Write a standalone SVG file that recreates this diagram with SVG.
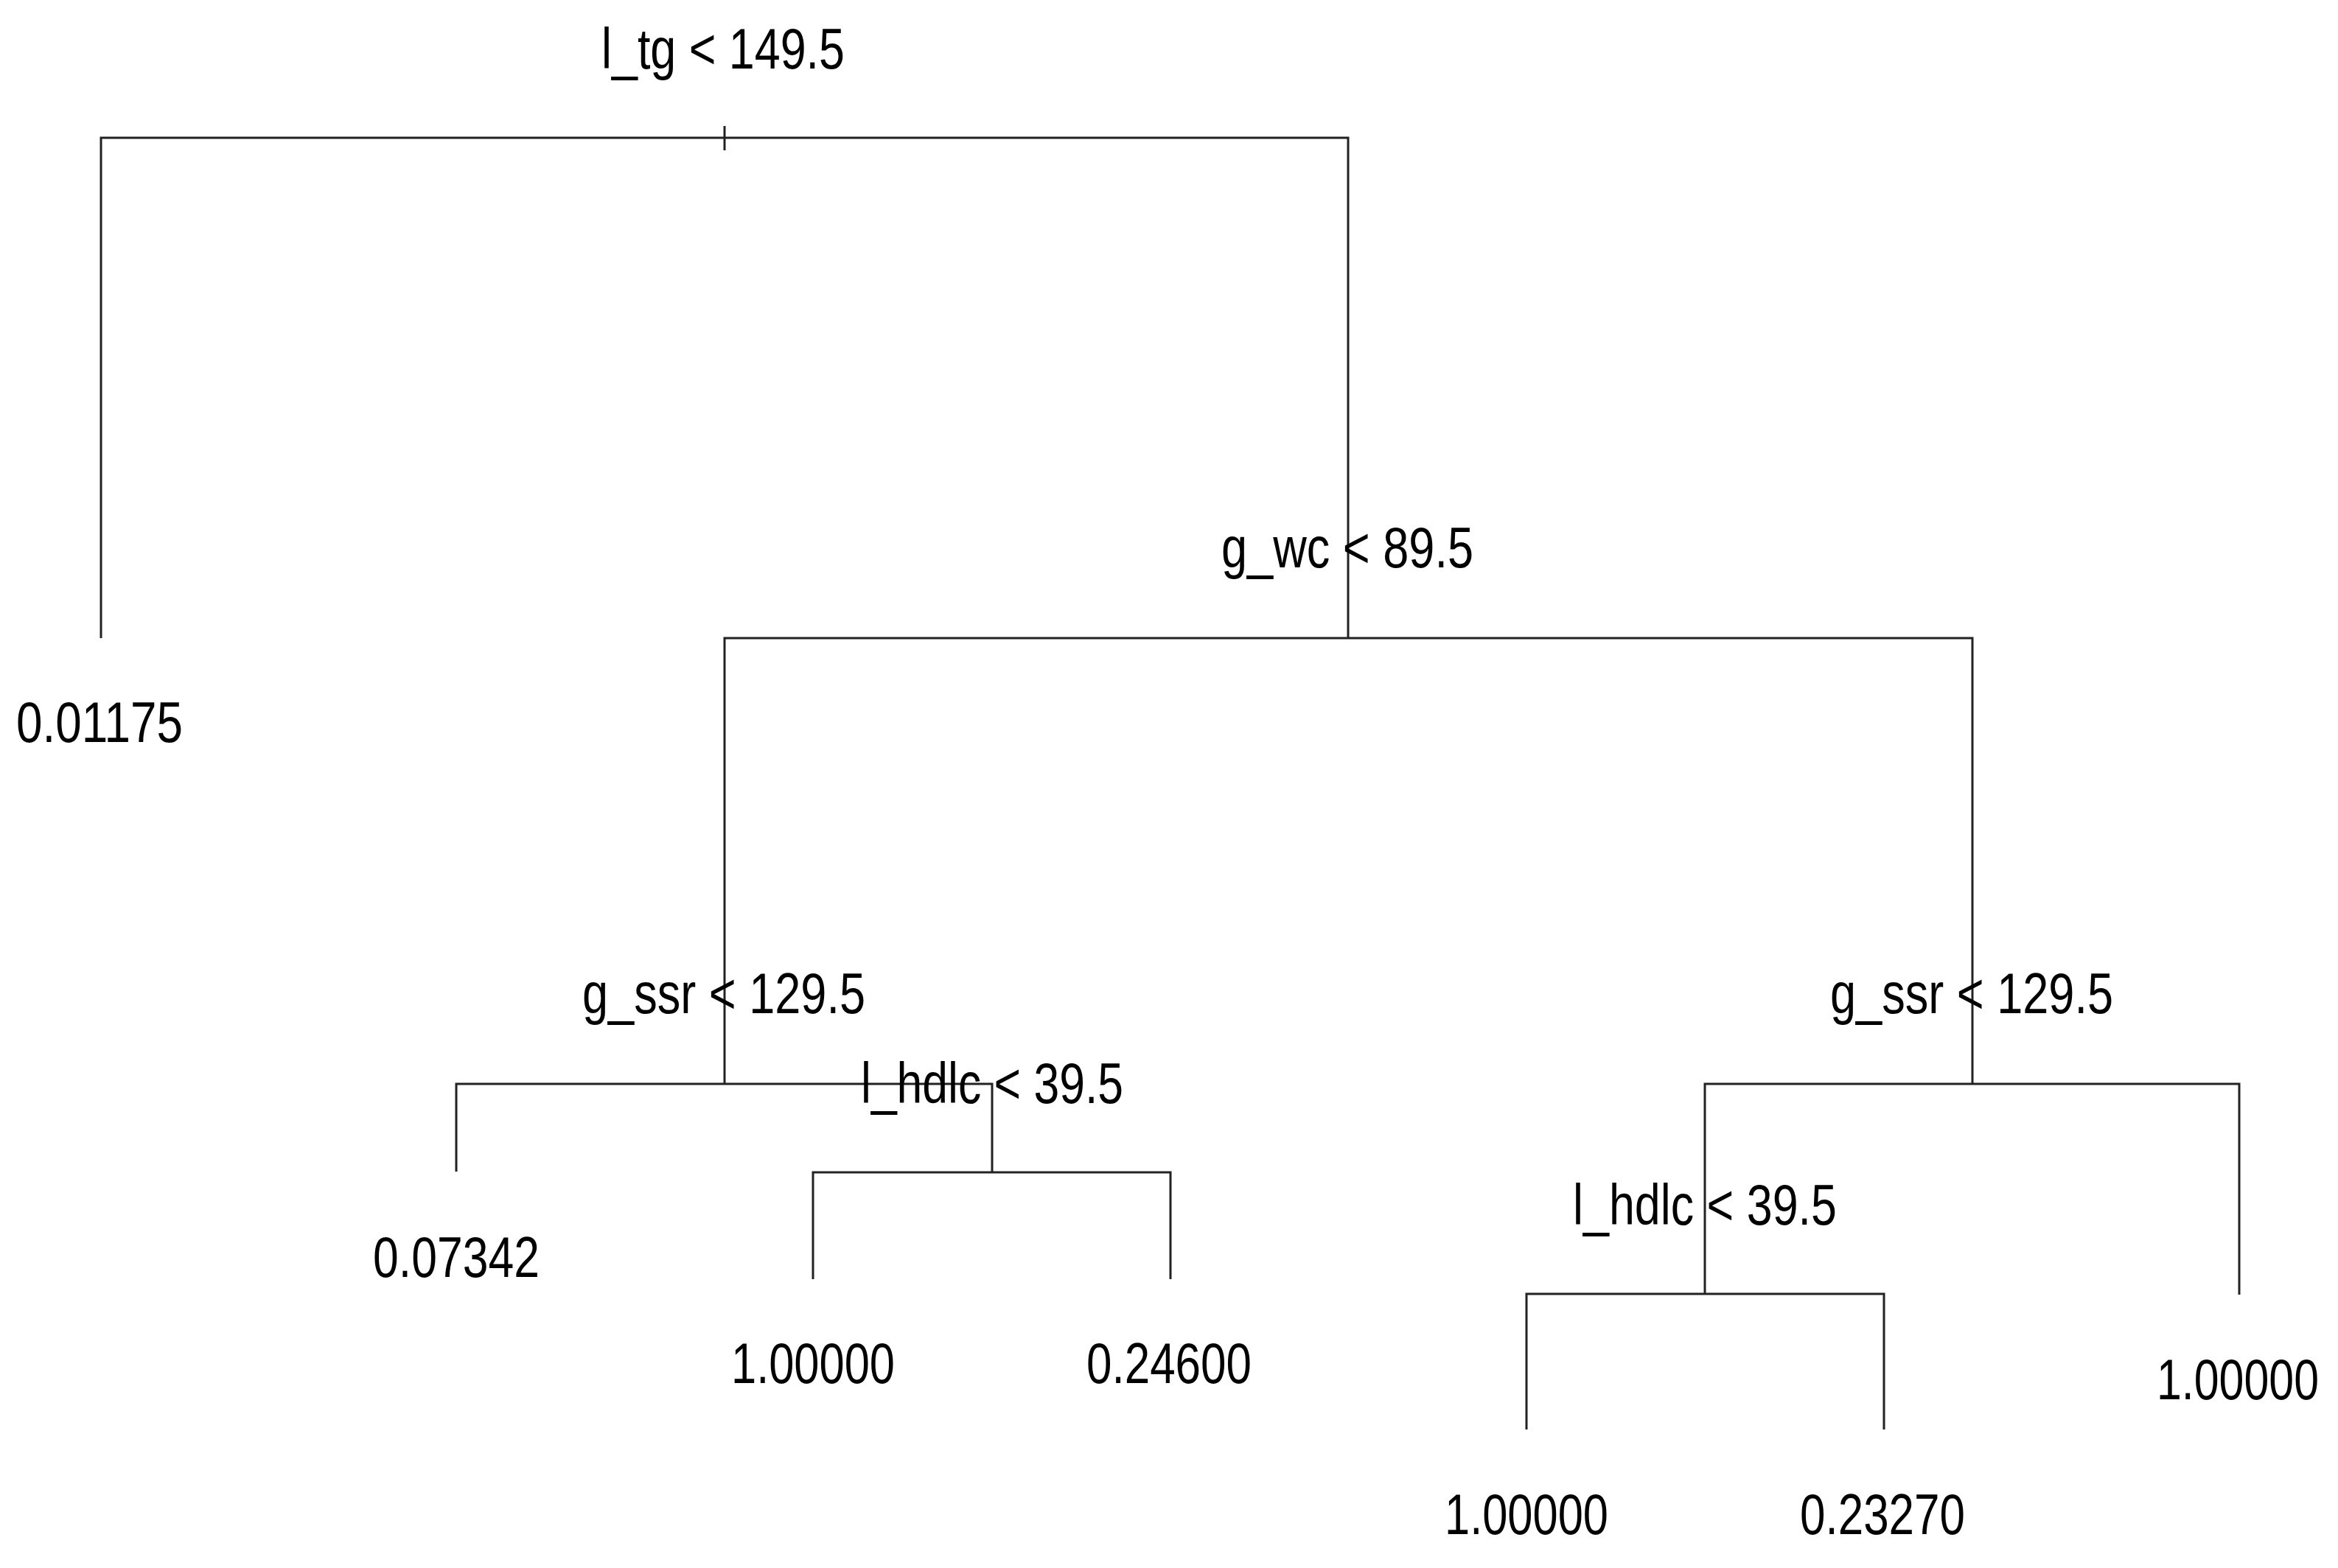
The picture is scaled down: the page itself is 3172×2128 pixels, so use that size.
<svg xmlns="http://www.w3.org/2000/svg" width="3172" height="2128" viewBox="0 0 3172 2128">
<style>
  .edge { stroke: #222; stroke-width: 3; fill: none; stroke-linecap: butt; }
  .lbl { font-family: "Liberation Sans", Arial, sans-serif; font-size: 77px; fill: #000; text-anchor: middle; }
</style>
<rect x="0" y="0" width="3172" height="2128" fill="#fff"/>
<g id="connectors">
  <path class="edge" d="M983 171V204"/>
  <path class="edge" d="M137 866V187H1829V866"/>
  <path class="edge" d="M983 1471V866H2676V1471"/>
  <path class="edge" d="M619 1590V1471H1346V1591"/>
  <path class="edge" d="M1103 1736V1591H1588V1736"/>
  <path class="edge" d="M2313 1756V1471H3038V1757"/>
  <path class="edge" d="M2071 1940V1756H2556V1940"/>
</g>
<g id="node-root"><text class="lbl" x="981" y="93" textLength="330" lengthAdjust="spacingAndGlyphs">l_tg &lt; 149.5</text></g>
<g id="node-gwc"><text class="lbl" x="1828" y="770" textLength="342" lengthAdjust="spacingAndGlyphs">g_wc &lt; 89.5</text></g>
<g id="node-gssr-left"><text class="lbl" x="982" y="1375" textLength="384" lengthAdjust="spacingAndGlyphs">g_ssr &lt; 129.5</text></g>
<g id="node-lhdlc-left"><text class="lbl" x="1346" y="1497" textLength="356" lengthAdjust="spacingAndGlyphs">l_hdlc &lt; 39.5</text></g>
<g id="node-gssr-right"><text class="lbl" x="2675" y="1375" textLength="384" lengthAdjust="spacingAndGlyphs">g_ssr &lt; 129.5</text></g>
<g id="node-lhdlc-right"><text class="lbl" x="2313" y="1662" textLength="358" lengthAdjust="spacingAndGlyphs">l_hdlc &lt; 39.5</text></g>
<g id="leaf-1"><text class="lbl" x="135" y="1007" textLength="226" lengthAdjust="spacingAndGlyphs">0.01175</text></g>
<g id="leaf-2"><text class="lbl" x="619" y="1733" textLength="226" lengthAdjust="spacingAndGlyphs">0.07342</text></g>
<g id="leaf-3"><text class="lbl" x="1103" y="1877" textLength="222" lengthAdjust="spacingAndGlyphs">1.00000</text></g>
<g id="leaf-4"><text class="lbl" x="1586" y="1877" textLength="224" lengthAdjust="spacingAndGlyphs">0.24600</text></g>
<g id="leaf-5"><text class="lbl" x="2071" y="2082" textLength="222" lengthAdjust="spacingAndGlyphs">1.00000</text></g>
<g id="leaf-6"><text class="lbl" x="2554" y="2082" textLength="224" lengthAdjust="spacingAndGlyphs">0.23270</text></g>
<g id="leaf-7"><text class="lbl" x="3036" y="1899" textLength="220" lengthAdjust="spacingAndGlyphs">1.00000</text></g>
</svg>
